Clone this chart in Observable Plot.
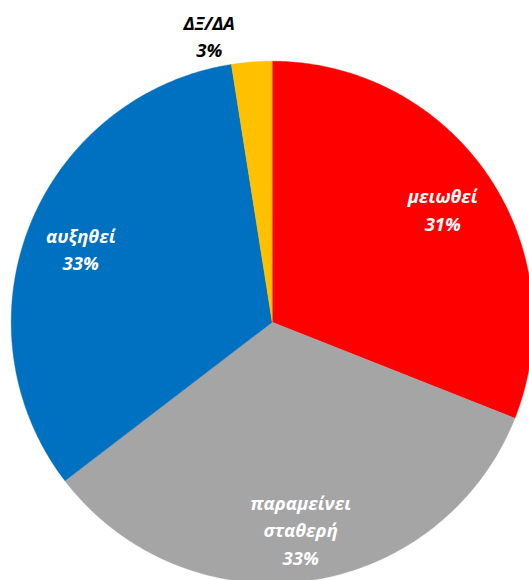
<!DOCTYPE html>
<html>
<head>
<meta charset="utf-8">
<script src="https://cdn.jsdelivr.net/npm/d3@7"></script>
<script src="https://cdn.jsdelivr.net/npm/@observablehq/plot@0.6"></script>
<style>
  html, body { margin: 0; padding: 0; background: #fff; overflow: hidden; }
</style>
</head>
<body>
<div id="chart"></div>
<script>
// Data
const categories = ["μειωθεί", "παραμείνει σταθερή", "αυξηθεί", "ΔΞ/ΔΑ"];
const values = [31.0, 33.6, 32.9, 2.5];
const pctLabels = ["31%", "33%", "33%", "3%"];
const colors = ["#FF0000", "#A5A5A5", "#0070C0", "#FFC000"];

// Build pie geometry (angles clockwise from 12 o'clock)
const total = d3.sum(values);
let acc = 0;
const slices = categories.map((c, i) => {
  const a0 = acc / total * 2 * Math.PI;
  acc += values[i];
  const a1 = acc / total * 2 * Math.PI;
  return {cat: c, i, a0, a1, mid: (a0 + a1) / 2};
});

const N = 180;
const polyPts = [];
for (const s of slices) {
  polyPts.push({cat: s.cat, x: 0, y: 0});
  for (let k = 0; k <= N; k++) {
    const a = s.a0 + (s.a1 - s.a0) * k / N;
    polyPts.push({cat: s.cat, x: Math.sin(a), y: Math.cos(a)});
  }
  polyPts.push({cat: s.cat, x: 0, y: 0});
}

const inside = slices.filter(s => values[s.i] >= 5).map(s => ({
  text: categories[s.i].replace(" ", "\n") + "\n" + pctLabels[s.i],
  x: 0.79 * Math.sin(s.mid),
  y: 0.79 * Math.cos(s.mid)
}));
const outside = slices.filter(s => values[s.i] < 5).map(s => ({
  text: categories[s.i] + "\n" + pctLabels[s.i],
  x: 1.12 * Math.sin(s.mid),
  y: 1.12 * Math.cos(s.mid)
}));

const W = 529, H = 580;
const cx = 271.7, cy = 321.7, R = 261;

const font = "'Open Sans', sans-serif";

const plot = Plot.plot({
  width: W,
  height: H,
  margin: 0,
  x: {domain: [-cx / R, (W - cx) / R], range: [0, W], axis: null},
  y: {domain: [-(H - cy) / R, cy / R], range: [H, 0], axis: null},
  color: {domain: categories, range: colors},
  marks: [
    Plot.line(polyPts, {x: "x", y: "y", z: "cat", fill: "cat", stroke: "cat", strokeWidth: 0.4, curve: "linear"}),
    Plot.text(inside, {
      x: "x", y: "y", text: "text", dy: 2,
      fill: "white", fontSize: 18.5, fontWeight: "bold", fontStyle: "italic",
      fontFamily: font, lineHeight: 1.48, lineAnchor: "middle"
    }),
    Plot.text(outside, {
      x: "x", y: "y", text: "text", dx: -40, dy: 4,
      fill: "black", fontSize: 18.5, fontWeight: "bold", fontStyle: "italic",
      fontFamily: font, lineHeight: 1.48, lineAnchor: "middle"
    })
  ]
});
document.getElementById("chart").appendChild(plot);
</script>
</body>
</html>
